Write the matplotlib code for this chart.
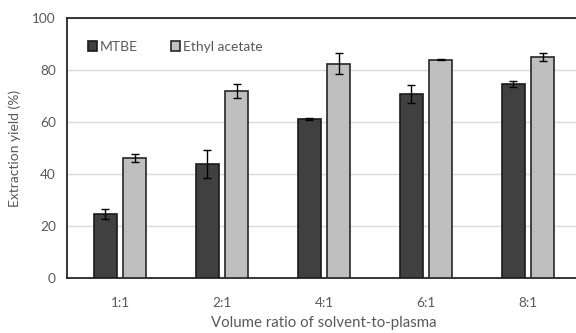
import matplotlib.pyplot as plt
import numpy as np

plt.rcParams['font.family'] = ['Lato', 'DejaVu Sans']

ratios = ["1:1", "2:1", "4:1", "6:1", "8:1"]
mtbe = [24.5, 43.7, 61.0, 70.8, 74.6]
mtbe_err = [2.0, 5.4, 0.4, 3.3, 1.3]
ethyl = [46.2, 72.0, 82.5, 84.0, 85.0]
ethyl_err = [1.4, 2.7, 3.9, 0.3, 1.6]

txt = "#595959"
fig = plt.figure(figsize=(5.76, 3.33), dpi=100)
ax = fig.add_axes([0.1163, 0.1652, 0.8924, 0.7807])

x = np.arange(len(ratios))
w = 0.225
off = 0.145
ax.bar(x - off, mtbe, w, yerr=mtbe_err, color="#404040", edgecolor="#1a1a1a",
       linewidth=1.2, capsize=3, error_kw=dict(elinewidth=1, ecolor="black", capthick=1),
       label="MTBE", zorder=3)
ax.bar(x + off, ethyl, w, yerr=ethyl_err, color="#bfbfbf", edgecolor="#262626",
       linewidth=1.2, capsize=3, error_kw=dict(elinewidth=1, ecolor="black", capthick=1),
       label="Ethyl acetate", zorder=3)

ax.set_xlim(-0.52, 4.52)
ax.set_ylim(0, 100)
ax.set_yticks(range(0, 101, 20))
ax.set_xticks(x)
ax.set_xticklabels(ratios)
ax.yaxis.grid(True, color="#d9d9d9", linewidth=1, zorder=0)
ax.set_axisbelow(True)
ax.tick_params(length=0, labelsize=9.8, labelcolor=txt)
ax.tick_params(axis="x", pad=14)
ax.tick_params(axis="y", pad=8)
for s in ["left", "bottom", "top"]:
    ax.spines[s].set_color("#262626")
    ax.spines[s].set_linewidth(1.3)
ax.spines["right"].set_visible(False)

ax.set_xlabel("Volume ratio of solvent-to-plasma", fontsize=10.8, color=txt, labelpad=5)
ax.set_ylabel("Extraction yield (%)", fontsize=10, color=txt, labelpad=8)

leg = ax.legend(loc="upper left", bbox_to_anchor=(0.016, 0.96), ncol=2, frameon=False,
                fontsize=10, handlelength=0.65, handleheight=0.65, handletextpad=0.2,
                columnspacing=2.4)
for t in leg.get_texts():
    t.set_color(txt)

fig.savefig("out.png", dpi=100)
